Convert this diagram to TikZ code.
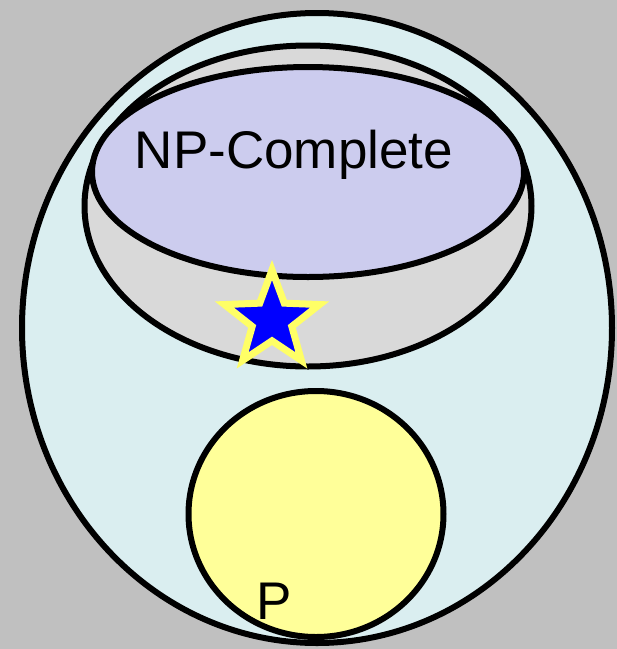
\documentclass[tikz,border=0pt]{standalone}
\usepackage{fontspec}
\setmainfont{Liberation Sans}
\usetikzlibrary{shapes.geometric}
\usetikzlibrary{positioning}
\definecolor{bggray}{HTML}{C0C0C0}
\definecolor{npcyan}{HTML}{DAEEF0}
\definecolor{hardgray}{HTML}{D9D9D9}
\definecolor{complavender}{HTML}{CCCCEE}
\definecolor{pyellow}{HTML}{FFFF99}
\definecolor{staryellow}{HTML}{FFFF66}
\tikzset{
    classset/.style={ellipse, draw=black, line width=6pt, inner sep=0pt},
    classlabel/.style={font=\fontsize{53}{60}\selectfont, inner sep=0pt},
    markstar/.style={star, star points=5, star point ratio=2.4, draw=staryellow,
        fill=blue, line width=7pt, inner sep=0pt, minimum size=100pt},
}
\begin{document}
\begin{tikzpicture}[x=1pt, y=-1pt]
	\useasboundingbox[fill=bggray] (0,0) rectangle (617,649);
	% NP, NP-hard, NP-complete and P
	\node[classset, fill=npcyan, minimum width=590pt, minimum height=630pt] (np) at (317,328) {};
	\node[classset, fill=hardgray, minimum width=447pt, minimum height=321pt] (nphard) at (308,206) {};
	\node[classset, fill=complavender, minimum width=432pt, minimum height=210pt] (npc) at (308,172) {};
	\node[classset, fill=pyellow, minimum width=255pt, minimum height=246pt] (p) at (316,514) {};
	\node[markstar] (sat) at (272,320) {};
	\node[classlabel] (npclabel) at (294,155) {NP-Complete};
	\node[classlabel] (plabel) at (274,601) {P};
\end{tikzpicture}
\end{document}
